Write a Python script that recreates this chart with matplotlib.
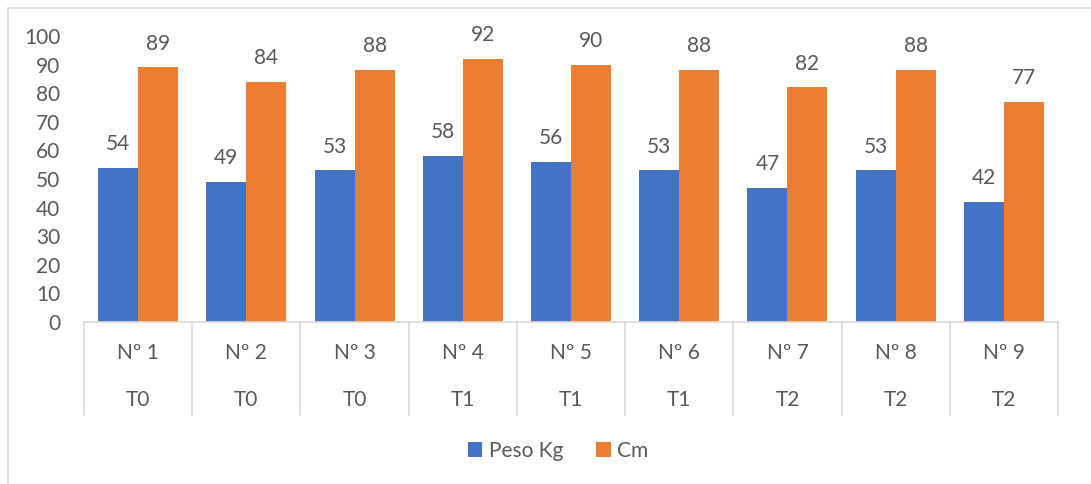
import numpy as np
import matplotlib.pyplot as plt
from matplotlib.patches import Rectangle

plt.rcParams['font.family'] = ['Lato', 'DejaVu Sans']

items = ["Nº 1", "Nº 2", "Nº 3", "Nº 4", "Nº 5", "Nº 6", "Nº 7", "Nº 8", "Nº 9"]
groups = ["T0", "T0", "T0", "T1", "T1", "T1", "T2", "T2", "T2"]
peso_kg = [54, 49, 53, 58, 56, 53, 47, 53, 42]
cm = [89, 84, 88, 92, 90, 88, 82, 88, 77]

BLUE = "#4472C4"
ORANGE = "#ED7D31"
TEXT = "#595959"
GRID = "#D9D9D9"


def main():
    fig = plt.figure(figsize=(10.91, 4.84), dpi=100)
    W, H = 1091, 484
    ax = fig.add_axes([84 / W, 1 - 322 / H, (1058 - 84) / W, (322 - 36) / H])

    # light chart-area frame
    fig.add_artist(Rectangle((8 / W, -0.05), 1.2, 1 - 8 / H + 0.05,
                             transform=fig.transFigure, fill=False,
                             edgecolor=GRID, linewidth=1.2))

    x = np.arange(len(items))
    width = 0.37
    b1 = ax.bar(x - width / 2, peso_kg, width, color=BLUE, label="Peso Kg")
    b2 = ax.bar(x + width / 2, cm, width, color=ORANGE, label="Cm")

    for bars, vals in ((b1, peso_kg), (b2, cm)):
        for rect, v in zip(bars, vals):
            ax.annotate(str(v), (rect.get_x() + rect.get_width() / 2, v),
                        xytext=(0, 10), textcoords="offset points",
                        ha="center", va="bottom", fontsize=15, color=TEXT)

    ax.set_xlim(-0.5, len(items) - 0.5)
    ax.set_ylim(0, 100)
    ax.set_yticks(range(0, 101, 10))
    ax.tick_params(axis="y", length=0, labelsize=15, labelcolor=TEXT, pad=17)
    ax.set_xticks([])
    for s in ("top", "right", "left"):
        ax.spines[s].set_visible(False)
    ax.spines["bottom"].set_color(GRID)
    ax.spines["bottom"].set_linewidth(1.2)

    # two-level category axis
    for b in np.arange(-0.5, len(items), 1.0):
        ax.plot([b, b], [0, -0.325], transform=ax.get_xaxis_transform(),
                color=GRID, linewidth=1.2, clip_on=False)
    for i, (it, g) in enumerate(zip(items, groups)):
        ax.text(i, -0.108, it, transform=ax.get_xaxis_transform(),
                ha="center", va="center", fontsize=15, color=TEXT)
        ax.text(i, -0.273, g, transform=ax.get_xaxis_transform(),
                ha="center", va="center", fontsize=15, color=TEXT)

    fig.legend(handles=[b1, b2], loc="center", bbox_to_anchor=(558 / W, 1 - 451 / H),
               ncol=2, frameon=False, fontsize=15, labelcolor=TEXT,
               handlelength=0.7, handleheight=0.7, handletextpad=0.3,
               columnspacing=1.6)

    fig.savefig("out.png", dpi=100)


if __name__ == "__main__":
    main()
